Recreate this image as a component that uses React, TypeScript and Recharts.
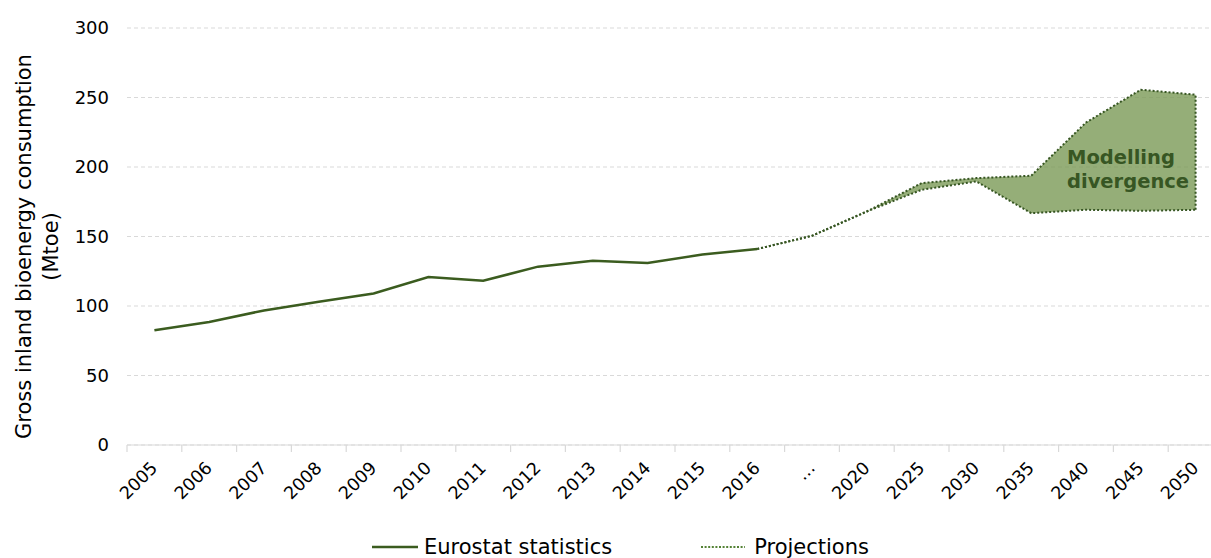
import React from 'react';
import {
  ComposedChart,
  Line,
  Area,
  XAxis,
  YAxis,
  CartesianGrid,
  Legend,
  ReferenceLine,
  ReferenceDot,
} from 'recharts';

// ---------- data ----------
const years = [
  '2005', '2006', '2007', '2008', '2009', '2010', '2011', '2012', '2013', '2014',
  '2015', '2016', '…', '2020', '2025', '2030', '2035', '2040', '2045', '2050',
];

const eurostat = [
  82.5, 88.5, 96.8, 103, 109, 120.8, 118.2, 128.3, 132.5, 131,
  137, 141, null, null, null, null, null, null, null, null,
];

const projectionLow = [
  null, null, null, null, null, null, null, null, null, null,
  null, 141, 150.5, 168, 183.6, 189.6, 166.8, 169.2, 168.5, 169.2,
];

const projectionHigh = [
  null, null, null, null, null, null, null, null, null, null,
  null, 141, 150.5, 168, 188.4, 192, 193.7, 232, 255.6, 252,
];

const yTicks = [0, 50, 100, 150, 200, 250, 300];

const yTitleLines = ['Gross inland bioenergy consumption', '(Mtoe)'];
const annotationLines = ['Modelling', 'divergence'];
const annotationAnchor = { x: '2040', y: 200 };

const legendLabels = { eurostat: 'Eurostat statistics', projection: 'Projections' };

// ---------- styling ----------
const FONT = '"DejaVu Sans", Verdana, sans-serif';
const CHART_W = 1240;
const CHART_H = 558;
const MARGIN = { top: 28, right: 17, left: 0, bottom: 0 };
const Y_AXIS_W = 127;
const PLOT_W = CHART_W - MARGIN.left - MARGIN.right - Y_AXIS_W;
const BAND = PLOT_W / years.length;

const DARK_GREEN = '#375623';
const LINE_GREEN = '#3b5c1f';
const FILL_GREEN = '#7a9a56';
const GRID = '#d9d9d9';

const data = years.map((year, i) => ({
  year,
  eurostat: eurostat[i],
  projection:
    projectionLow[i] == null || projectionHigh[i] == null
      ? null
      : [projectionLow[i], projectionHigh[i]],
}));

const XTick = (props: any) => {
  const { x, y, payload } = props;
  const bx = x - BAND / 2;
  const tx = x + 4;
  const ty = y + 24;
  return (
    <g>
      <line x1={bx} x2={bx} y1={y} y2={y + 7} stroke={GRID} strokeWidth={1.2} />
      <text
        x={tx}
        y={ty}
        transform={`rotate(-45, ${tx}, ${ty})`}
        textAnchor="end"
        fontSize={17.5}
        fontFamily={FONT}
        fill="#000"
      >
        {payload.value}
      </text>
    </g>
  );
};

const YTitle = (props: any) => {
  const vb = props.viewBox || { x: 0, y: MARGIN.top, width: Y_AXIS_W, height: 417 };
  const cx = vb.x + 31;
  const cy = vb.y + vb.height / 2 + 10;
  return (
    <text
      transform={`translate(${cx}, ${cy}) rotate(-90)`}
      textAnchor="middle"
      fontSize={21}
      fontFamily={FONT}
      fill="#000"
    >
      <tspan x={0} y={0}>{yTitleLines[0]}</tspan>
      <tspan x={0} y={27}>{yTitleLines[1]}</tspan>
    </text>
  );
};

const AnnotationShape = (props: any) => {
  const { cx, cy } = props;
  if (cx == null || cy == null) return null;
  return (
    <text
      fontSize={19.5}
      fontWeight="bold"
      fontFamily={FONT}
      fill={DARK_GREEN}
      textAnchor="start"
    >
      <tspan x={cx - 19} y={cy - 3}>{annotationLines[0]}</tspan>
      <tspan x={cx - 19} y={cy + 20.5}>{annotationLines[1]}</tspan>
    </text>
  );
};

const LegendContent = () => (
  <div
    style={{
      height: 28,
      boxSizing: 'border-box',
      paddingTop: 6,
      display: 'flex',
      justifyContent: 'center',
      alignItems: 'center',
      paddingLeft: 18,
      fontFamily: FONT,
      fontSize: 21,
      color: '#000',
      whiteSpace: 'nowrap',
    }}
  >
    <svg width={46} height={10} style={{ marginRight: 6 }}>
      <line x1={0} x2={46} y1={5} y2={5} stroke={LINE_GREEN} strokeWidth={2.5} />
    </svg>
    <span>{legendLabels.eurostat}</span>
    <svg width={44} height={10} style={{ marginLeft: 89, marginRight: 9 }}>
      <line x1={0} x2={44} y1={5} y2={5} stroke="#548235" strokeWidth={1.8} strokeDasharray="2 1.6" />
    </svg>
    <span>{legendLabels.projection}</span>
  </div>
);

export default function App() {
  return (
    <div
      style={{
        position: 'absolute',
        left: 0,
        top: 0,
        width: 1211,
        height: 558,
        overflow: 'hidden',
        background: '#fff',
      }}
    >
      <ComposedChart width={CHART_W} height={CHART_H} data={data} margin={MARGIN}>
        <CartesianGrid vertical={false} stroke={GRID} strokeDasharray="4 3" />
        <XAxis
          dataKey="year"
          interval={0}
          height={85}
          padding={{ left: BAND / 2, right: BAND / 2 }}
          axisLine={{ stroke: GRID, strokeWidth: 1.2 }}
          tickLine={false}
          tickSize={0}
          tickMargin={0}
          tick={<XTick />}
        />
        <YAxis
          width={Y_AXIS_W}
          domain={[0, 300]}
          ticks={yTicks}
          axisLine={false}
          tickLine={false}
          tickSize={0}
          tickMargin={18}
          tick={{ fontSize: 18, fontFamily: FONT, fill: '#000' }}
          label={<YTitle />}
        />
        <Area
          type="linear"
          dataKey="projection"
          stroke={DARK_GREEN}
          strokeWidth={2}
          strokeDasharray="2 2"
          fill={FILL_GREEN}
          fillOpacity={0.8}
          dot={false}
          activeDot={false}
          isAnimationActive={false}
        />
        <ReferenceLine
          segment={[
            { x: years[years.length - 1], y: projectionLow[projectionLow.length - 1] },
            { x: years[years.length - 1], y: projectionHigh[projectionHigh.length - 1] },
          ]}
          stroke={DARK_GREEN}
          strokeWidth={2}
          strokeDasharray="2 2"
        />
        <Line
          type="linear"
          dataKey="eurostat"
          stroke={LINE_GREEN}
          strokeWidth={2.5}
          dot={false}
          activeDot={false}
          isAnimationActive={false}
        />
        <ReferenceDot
          x={annotationAnchor.x}
          y={annotationAnchor.y}
          r={0}
          shape={<AnnotationShape />}
        />
        <Legend verticalAlign="bottom" height={28} content={<LegendContent />} />
      </ComposedChart>
    </div>
  );
}
